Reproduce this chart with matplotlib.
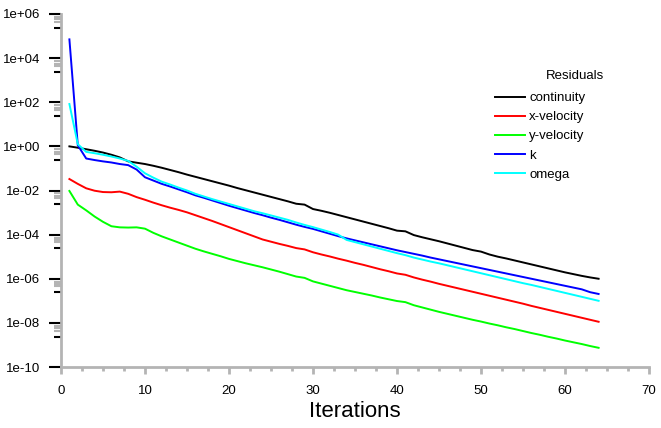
import numpy as np
import matplotlib
matplotlib.use("Agg")
import matplotlib.pyplot as plt
from matplotlib.ticker import FixedLocator, MultipleLocator, FuncFormatter, NullFormatter

plt.rcParams['font.family'] = ['Liberation Sans', 'DejaVu Sans']

# residual histories (log10 of the residual)
iterations = np.arange(1, 65)
continuity_log = [0.00, -0.06, -0.13, -0.20, -0.28, -0.38, -0.50, -0.68, -0.74, -0.80,
                  -0.88, -0.97, -1.07, -1.17, -1.28, -1.38, -1.48, -1.58, -1.68, -1.78,
                  -1.89, -1.99, -2.09, -2.19, -2.29, -2.39, -2.49, -2.60, -2.64, -2.84,
                  -2.92, -3.01, -3.11, -3.21, -3.31, -3.41, -3.51, -3.61, -3.71, -3.82,
                  -3.85, -4.02, -4.12, -4.21, -4.30, -4.40, -4.50, -4.60, -4.70, -4.77,
                  -4.90, -5.00, -5.08, -5.17, -5.26, -5.35, -5.44, -5.53, -5.62, -5.71,
                  -5.79, -5.87, -5.94, -6.00]
xvel_log = [-1.48, -1.70, -1.90, -2.01, -2.07, -2.08, -2.05, -2.15, -2.30, -2.42,
            -2.55, -2.67, -2.78, -2.88, -2.99, -3.12, -3.25, -3.38, -3.52, -3.66,
            -3.80, -3.94, -4.08, -4.22, -4.32, -4.42, -4.51, -4.61, -4.67, -4.80,
            -4.90, -4.99, -5.09, -5.18, -5.28, -5.37, -5.47, -5.57, -5.66, -5.76,
            -5.82, -5.94, -6.04, -6.13, -6.23, -6.32, -6.41, -6.50, -6.59, -6.68,
            -6.77, -6.86, -6.95, -7.04, -7.13, -7.23, -7.32, -7.41, -7.50, -7.59,
            -7.68, -7.77, -7.86, -7.95]
yvel_log = [-2.02, -2.64, -2.90, -3.18, -3.42, -3.62, -3.67, -3.68, -3.67, -3.73,
            -3.92, -4.08, -4.22, -4.36, -4.50, -4.64, -4.76, -4.87, -4.98, -5.10,
            -5.20, -5.30, -5.39, -5.48, -5.58, -5.68, -5.79, -5.90, -5.96, -6.12,
            -6.22, -6.32, -6.42, -6.52, -6.60, -6.68, -6.76, -6.85, -6.93, -7.01,
            -7.06, -7.20, -7.30, -7.40, -7.50, -7.59, -7.68, -7.77, -7.86, -7.94,
            -8.03, -8.11, -8.20, -8.28, -8.37, -8.46, -8.54, -8.63, -8.71, -8.80,
            -8.88, -8.96, -9.05, -9.13]
k_log = [4.85, 0.05, -0.55, -0.62, -0.68, -0.73, -0.80, -0.85, -1.05, -1.40,
         -1.55, -1.70, -1.82, -1.95, -2.08, -2.22, -2.33, -2.45, -2.57, -2.69,
         -2.80, -2.91, -3.02, -3.12, -3.23, -3.33, -3.44, -3.55, -3.65, -3.74,
         -3.85, -3.96, -4.07, -4.17, -4.26, -4.35, -4.44, -4.53, -4.62, -4.71,
         -4.79, -4.87, -4.95, -5.04, -5.12, -5.20, -5.28, -5.36, -5.44, -5.52,
         -5.60, -5.68, -5.76, -5.84, -5.92, -6.00, -6.08, -6.16, -6.24, -6.32,
         -6.40, -6.48, -6.61, -6.69]
omega_log = [1.92, 0.10, -0.25, -0.31, -0.38, -0.46, -0.55, -0.66, -0.92, -1.22,
             -1.42, -1.60, -1.73, -1.87, -2.00, -2.15, -2.27, -2.39, -2.50, -2.61,
             -2.72, -2.83, -2.94, -3.03, -3.13, -3.23, -3.33, -3.45, -3.56, -3.66,
             -3.77, -3.88, -4.00, -4.24, -4.34, -4.44, -4.54, -4.64, -4.74, -4.84,
             -4.93, -5.04, -5.13, -5.22, -5.30, -5.39, -5.48, -5.57, -5.66, -5.75,
             -5.84, -5.93, -6.02, -6.11, -6.20, -6.28, -6.37, -6.46, -6.55, -6.64,
             -6.73, -6.82, -6.91, -7.00]

names = ['continuity', 'x-velocity', 'y-velocity', 'k', 'omega']
series = [continuity_log, xvel_log, yvel_log, k_log, omega_log]
colors = ['#000000', '#ff0000', '#00ff00', '#0000ff', '#00ffff']

fig = plt.figure(figsize=(6.61, 4.28), dpi=100)
ax = fig.add_axes([61 / 661, 1 - 367 / 428, 588 / 661, 353 / 428])

for name, vals, c in zip(names, series, colors):
    ax.plot(iterations, 10.0 ** np.array(vals), color=c, lw=1.4, label=name)

ax.set_yscale('log')
ax.set_xlim(0, 70)
ax.set_ylim(1e-10, 1e6)

grey = '#b4b4b4'
for s in ['top', 'right']:
    ax.spines[s].set_visible(False)
for s in ['left', 'bottom']:
    ax.spines[s].set_color(grey)
    ax.spines[s].set_linewidth(2)

# y ticks
majors = [10.0 ** p for p in range(-10, 7, 2)]
ax.yaxis.set_major_locator(FixedLocator(majors))
ax.yaxis.set_major_formatter(FuncFormatter(lambda v, pos: '%.0e' % v))
ax.yaxis.set_minor_locator(FixedLocator([m / 10 * s for m in majors[1:] for s in (4.5, 5.7, 7.4)]))
ax.yaxis.set_minor_formatter(NullFormatter())
ax.tick_params(axis='y', which='major', length=9, width=1.5, color='black',
               labelsize=9.5, pad=6)
ax.tick_params(axis='y', which='minor', length=5, width=1.5, color=grey)

# short dark ticks inside each decade pair
sec = ax.secondary_yaxis('left')
sec.set_yticks([m / 10 * 2.4 for m in majors[1:]])
sec.set_yticklabels([])
sec.spines['left'].set_visible(False)
sec.tick_params(length=5, width=1.5, color='black')

# x ticks
ax.xaxis.set_major_locator(MultipleLocator(10))
ax.xaxis.set_minor_locator(MultipleLocator(2.5))
ax.tick_params(axis='x', which='major', length=5, width=2, color=grey,
               labelsize=9.5, pad=8)
ax.tick_params(axis='x', which='minor', length=3, width=2, color=grey)

ax.set_xlabel('Iterations', fontsize=16, labelpad=3)

ax.legend(loc='upper left', bbox_to_anchor=(495 / 661, 1 - 92 / 428),
          bbox_transform=fig.transFigure, frameon=False, fontsize=9.5,
          handlelength=2.3, handletextpad=0.3, labelspacing=0.52,
          borderpad=0, borderaxespad=0)
fig.text(575 / 661, 1 - 76 / 428, 'Residuals', fontsize=9.5, ha='center', va='center')

fig.savefig('out.png', dpi=100)
